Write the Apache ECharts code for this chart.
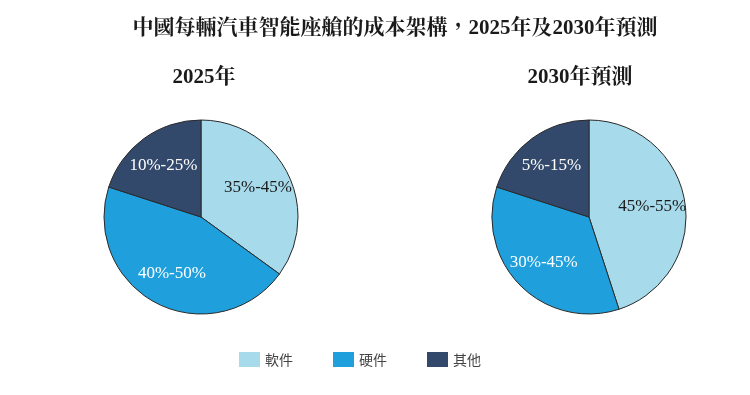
<!DOCTYPE html>
<html>
<head>
<meta charset="utf-8">
<script src="https://cdn.jsdelivr.net/npm/echarts@6/dist/echarts.min.js"></script>
<style>
html,body{margin:0;padding:0;background:#fff;}
#chart{width:750px;height:395px;}
</style>
</head>
<body>
<div id="chart"></div>
<script>
const mainTitle = '中國每輛汽車智能座艙的成本架構，2025年及2030年預測';
const categories = ['軟件', '硬件', '其他'];
const pieTitles = ['2025年', '2030年預測'];
const values2025 = [35, 45, 20];
const values2030 = [45, 35, 20];
const labels2025 = ['35%-45%', '40%-50%', '10%-25%'];
const labels2030 = ['45%-55%', '30%-45%', '5%-15%'];
const colors = ['#A7DAEA', '#1FA0DC', '#33496B'];
const labelColors = ['#1a1a1a', '#ffffff', '#ffffff'];

const serifFont = "'Liberation Serif', 'Noto Serif CJK TC', 'Noto Sans CJK TC', serif";
const R = 97;

function pieData(values, labels, withLabel) {
  return categories.map((c, i) => ({
    name: c,
    value: values[i],
    itemStyle: withLabel ? { color: 'rgba(0,0,0,0)', borderWidth: 0 } : { color: colors[i] },
    label: { formatter: labels[i], color: labelColors[i] }
  }));
}

function pieSeries(center, values, labels) {
  return [
    {
      type: 'pie',
      center: center,
      radius: [0, R],
      startAngle: 90,
      clockwise: true,
      animation: false,
      silent: true,
      itemStyle: { borderColor: '#2a2a2a', borderWidth: 1 },
      label: { show: false },
      labelLine: { show: false },
      emphasis: { disabled: true },
      data: pieData(values, labels, false)
    },
    {
      type: 'pie',
      center: center,
      radius: [30, 92],
      startAngle: 90,
      clockwise: true,
      animation: false,
      silent: true,
      label: {
        show: true,
        position: 'inside',
        fontFamily: serifFont,
        fontSize: 17
      },
      labelLine: { show: false },
      emphasis: { disabled: true },
      data: pieData(values, labels, true)
    }
  ];
}

const chart = echarts.init(document.getElementById('chart'), null, { renderer: 'canvas' });
chart.setOption({
  backgroundColor: '#ffffff',
  color: colors,
  animation: false,
  title: [
    {
      text: mainTitle,
      left: 395, top: 18, textAlign: 'center', padding: 0,
      textStyle: { fontFamily: serifFont, fontWeight: 'bold', fontSize: 21, lineHeight: 21, color: '#1a1a1a' }
    },
    {
      text: pieTitles[0],
      left: 204, top: 67, textAlign: 'center', padding: 0,
      textStyle: { fontFamily: serifFont, fontWeight: 'bold', fontSize: 21, lineHeight: 21, color: '#1a1a1a' }
    },
    {
      text: pieTitles[1],
      left: 580, top: 67, textAlign: 'center', padding: 0,
      textStyle: { fontFamily: serifFont, fontWeight: 'bold', fontSize: 21, lineHeight: 21, color: '#1a1a1a' }
    }
  ],
  legend: {
    data: categories,
    left: 239, top: 352, padding: 0,
    icon: 'rect',
    itemWidth: 21, itemHeight: 15,
    itemGap: 40,
    selectedMode: false,
    itemStyle: { borderWidth: 0 },
    textStyle: { fontFamily: "'Noto Sans CJK TC', sans-serif", fontSize: 14, color: '#444444', padding: [0, 0, 0, 0] }
  },
  series: [
    ...pieSeries([201, 217], values2025, labels2025),
    ...pieSeries([589, 217], values2030, labels2030)
  ]
});
</script>
</body>
</html>
